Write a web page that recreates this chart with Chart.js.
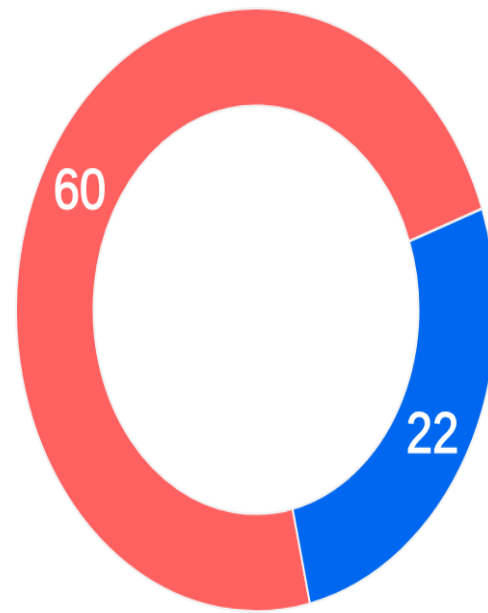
<!DOCTYPE html>
<html>
<head>
<meta charset="utf-8">
<script src="https://cdn.jsdelivr.net/npm/chart.js@4.4.1/dist/chart.umd.min.js"></script>
<style>
  html, body { margin: 0; padding: 0; background: #fff; overflow: hidden; }
  body { width: 488px; height: 613px; position: relative; }
  /* the ring in the picture is stretched, so scale the square canvas */
  #wrap {
    position: absolute;
    left: 15px;
    top: 7px;
    width: 500px;
    height: 500px;
    transform-origin: 0 0;
    transform: scale(0.964, 1.211);
  }
</style>
</head>
<body>
<div id="wrap"><canvas id="myChart" width="500" height="500"></canvas></div>
<script>
const labels = ['A', 'B'];
const values = [60, 22];
const colors = ['rgb(255, 97, 97)', 'rgb(0, 104, 240)'];

// draw each value in the middle of its slice
const sliceLabels = {
  id: 'sliceLabels',
  afterDatasetsDraw(chart) {
    const ctx = chart.ctx;
    const meta = chart.getDatasetMeta(0);
    ctx.save();
    ctx.fillStyle = '#fff';
    ctx.font = '49px "Liberation Sans", Arial, sans-serif';
    ctx.textAlign = 'center';
    ctx.textBaseline = 'middle';
    ctx.strokeStyle = '#fff';
    ctx.lineWidth = 1.2;
    meta.data.forEach((arc, i) => {
      const p = arc.tooltipPosition();
      ctx.fillText(String(values[i]), p.x, p.y + 4);
      ctx.strokeText(String(values[i]), p.x, p.y + 4);
    });
    ctx.restore();
  }
};

new Chart(document.getElementById('myChart'), {
  type: 'doughnut',
  data: {
    labels: labels,
    datasets: [{
      data: values,
      backgroundColor: colors,
      borderColor: '#f2f2f2',
      borderWidth: 2
    }]
  },
  options: {
    responsive: false,
    animation: false,
    devicePixelRatio: 1,
    cutout: '67.7%',
    rotation: 167,
    layout: { padding: 0 },
    plugins: {
      legend: { display: false },
      tooltip: { enabled: false }
    }
  },
  plugins: [sliceLabels]
});
</script>
</body>
</html>
